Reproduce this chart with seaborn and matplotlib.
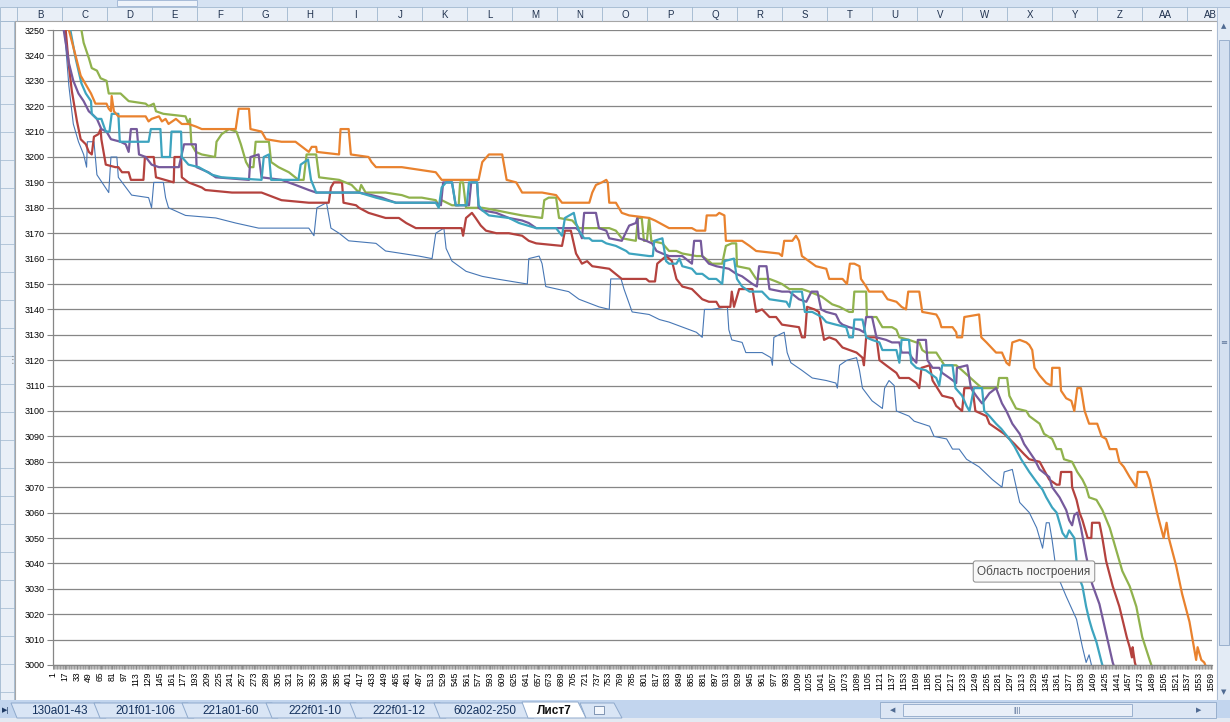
"""Excel-style sheet screenshot: six descending series on a category axis."""
import matplotlib
matplotlib.use("Agg")
import matplotlib.pyplot as plt
from matplotlib.patches import Rectangle, Polygon
import seaborn as sns

# ---- data -------------------------------------------------------------
categories = list(range(1, 1571))
x_tick_labels = [str(c) for c in categories[::16]]
y_ticks = list(range(3000, 3251, 10))

column_letters = ["B", "C", "D", "E", "F", "G", "H", "I", "J", "K", "L", "M", "N", "O",
                  "P", "Q", "R", "S", "T", "U", "V", "W", "X", "Y", "Z", "AA", "AB"]
sheet_tabs = ["130a01-43", "201f01-106", "221a01-60", "222f01-10", "222f01-12", "602a02-250"]
active_tab = "Лист7"
tooltip_text = "Область построения"

blue_points = [(1, 3300), (16, 3250), (22, 3228), (28, 3213), (35, 3206), (42, 3201), (46, 3196),
               (47, 3206), (56, 3206), (60, 3193), (76, 3186), (79, 3200), (87, 3200), (89, 3192),
               (107, 3185), (130, 3184), (134, 3180), (137, 3190), (150, 3190), (153, 3184),
               (157, 3180), (180, 3177), (221, 3176), (248, 3174), (279, 3172), (347, 3172),
               (354, 3169), (358, 3180), (371, 3182), (377, 3172), (388, 3170), (401, 3167),
               (438, 3166), (451, 3163), (496, 3161), (514, 3160), (519, 3170), (530, 3172),
               (533, 3164), (541, 3159), (560, 3155), (582, 3153), (601, 3152), (643, 3150),
               (645, 3160), (659, 3161), (663, 3158), (668, 3149), (699, 3147), (713, 3144),
               (740, 3141), (754, 3140), (756, 3152), (770, 3152), (774, 3148), (785, 3139),
               (808, 3138), (822, 3136), (835, 3135), (872, 3131), (880, 3129), (883, 3140),
               (893, 3140), (914, 3141), (916, 3132), (920, 3128), (934, 3127), (939, 3123),
               (961, 3123), (973, 3121), (975, 3118), (977, 3129), (991, 3131), (995, 3123),
               (1000, 3119), (1015, 3116), (1029, 3113), (1048, 3112), (1061, 3111), (1063, 3109),
               (1066, 3118), (1076, 3120), (1089, 3121), (1093, 3116), (1097, 3109), (1110, 3104),
               (1124, 3101), (1127, 3109), (1133, 3112), (1140, 3110), (1143, 3100), (1160, 3098),
               (1167, 3096), (1188, 3094), (1194, 3090), (1211, 3089), (1219, 3085), (1228, 3085),
               (1238, 3081), (1255, 3078), (1273, 3073), (1286, 3070), (1289, 3076), (1300, 3077),
               (1303, 3073), (1310, 3064), (1323, 3060), (1333, 3054), (1341, 3046), (1346, 3056),
               (1350, 3056), (1354, 3049), (1360, 3036), (1373, 3027), (1387, 3018), (1395, 3007),
               (1400, 3001), (1404, 3004), (1408, 2999), (1418, 2990)]

red_points = [(1, 3300), (18, 3249), (22, 3236), (26, 3226), (33, 3214), (38, 3207), (45, 3205),
              (49, 3202), (53, 3201), (56, 3208), (62, 3209), (65, 3211), (66, 3207), (72, 3197),
              (85, 3196), (89, 3196), (94, 3194), (103, 3194), (106, 3191), (123, 3191), (125, 3200),
              (137, 3200), (140, 3192), (164, 3190), (165, 3200), (174, 3200), (175, 3192),
              (184, 3190), (202, 3188), (207, 3187), (243, 3186), (283, 3186), (310, 3183),
              (347, 3182), (374, 3182), (377, 3188), (381, 3190), (392, 3190), (394, 3182),
              (411, 3181), (415, 3180), (428, 3178), (451, 3176), (469, 3176), (479, 3174),
              (492, 3172), (554, 3172), (556, 3169), (560, 3176), (568, 3178), (573, 3176),
              (580, 3173), (587, 3171), (601, 3170), (618, 3170), (636, 3169), (645, 3167),
              (655, 3166), (690, 3165), (694, 3171), (702, 3171), (709, 3162), (717, 3158),
              (724, 3159), (731, 3157), (754, 3156), (771, 3152), (804, 3152), (808, 3151),
              (816, 3151), (819, 3158), (831, 3161), (839, 3159), (845, 3152), (853, 3149),
              (866, 3148), (880, 3144), (889, 3143), (899, 3143), (903, 3141), (918, 3141),
              (920, 3147), (923, 3141), (930, 3148), (934, 3148), (948, 3148), (953, 3139),
              (961, 3140), (971, 3137), (980, 3137), (988, 3134), (1011, 3133), (1015, 3129),
              (1019, 3129), (1022, 3141), (1032, 3140), (1038, 3139), (1045, 3128), (1052, 3129),
              (1061, 3128), (1070, 3125), (1089, 3123), (1097, 3121), (1099, 3118), (1102, 3129),
              (1116, 3129), (1120, 3120), (1129, 3118), (1143, 3115), (1147, 3113), (1160, 3113),
              (1170, 3111), (1174, 3109), (1177, 3117), (1188, 3118), (1192, 3112), (1205, 3106),
              (1219, 3105), (1224, 3102), (1232, 3100), (1235, 3109), (1246, 3109), (1250, 3100),
              (1265, 3098), (1269, 3095), (1289, 3091), (1303, 3087), (1316, 3083), (1323, 3081),
              (1337, 3080), (1350, 3073), (1360, 3071), (1364, 3071), (1366, 3076), (1380, 3076),
              (1381, 3070), (1387, 3065), (1391, 3060), (1395, 3057), (1402, 3050), (1407, 3050),
              (1408, 3056), (1418, 3056), (1422, 3050), (1427, 3041), (1436, 3031), (1445, 3023),
              (1455, 3011), (1459, 3007), (1462, 3003), (1463, 3007), (1466, 3001), (1472, 2995)]

green_points = [(1, 3330), (39, 3250), (42, 3245), (49, 3239), (53, 3235), (60, 3234), (65, 3231),
                (73, 3230), (76, 3225), (92, 3225), (103, 3222), (126, 3221), (130, 3220),
                (137, 3221), (140, 3218), (150, 3217), (180, 3216), (184, 3213), (186, 3215),
                (188, 3205), (194, 3202), (202, 3201), (220, 3200), (222, 3206), (229, 3209),
                (239, 3211), (249, 3210), (255, 3205), (262, 3198), (266, 3196), (272, 3196),
                (275, 3206), (293, 3206), (296, 3198), (306, 3196), (320, 3194), (333, 3191),
                (340, 3191), (344, 3201), (357, 3201), (361, 3192), (388, 3191), (405, 3189),
                (415, 3186), (418, 3189), (424, 3186), (451, 3186), (473, 3185), (483, 3184),
                (500, 3184), (519, 3183), (523, 3181), (527, 3183), (541, 3181), (550, 3181),
                (552, 3190), (556, 3190), (560, 3180), (582, 3180), (601, 3179), (618, 3178),
                (636, 3177), (663, 3176), (666, 3183), (672, 3184), (682, 3184), (686, 3176),
                (704, 3175), (713, 3172), (754, 3172), (763, 3171), (771, 3168), (790, 3167),
                (793, 3176), (798, 3176), (801, 3167), (805, 3167), (808, 3176), (811, 3167),
                (826, 3166), (835, 3163), (845, 3163), (853, 3162), (872, 3161), (880, 3161),
                (889, 3159), (893, 3158), (907, 3158), (912, 3165), (920, 3166), (926, 3166),
                (927, 3157), (944, 3156), (953, 3152), (971, 3152), (980, 3151), (988, 3150),
                (998, 3148), (1015, 3148), (1025, 3147), (1042, 3145), (1056, 3142), (1066, 3141),
                (1079, 3139), (1084, 3139), (1086, 3147), (1102, 3147), (1103, 3137), (1116, 3137),
                (1120, 3135), (1124, 3133), (1137, 3133), (1143, 3132), (1147, 3129), (1160, 3128),
                (1170, 3127), (1174, 3127), (1178, 3124), (1183, 3123), (1197, 3123), (1208, 3118),
                (1224, 3118), (1232, 3116), (1251, 3111), (1259, 3109), (1280, 3109), (1282, 3113),
                (1293, 3113), (1296, 3106), (1305, 3101), (1319, 3100), (1323, 3098), (1337, 3095),
                (1343, 3091), (1354, 3089), (1360, 3085), (1366, 3085), (1370, 3081), (1381, 3080),
                (1388, 3076), (1395, 3073), (1400, 3070), (1404, 3066), (1414, 3065), (1422, 3061),
                (1432, 3054), (1436, 3050), (1441, 3045), (1449, 3037), (1459, 3031), (1468, 3023),
                (1476, 3011), (1486, 3002), (1493, 2996)]

purple_points = [(1, 3310), (15, 3250), (22, 3237), (28, 3230), (35, 3225), (42, 3222), (49, 3218),
                 (53, 3217), (60, 3215), (66, 3211), (73, 3210), (79, 3207), (92, 3206), (99, 3205),
                 (103, 3202), (106, 3211), (114, 3211), (117, 3201), (126, 3200), (134, 3197),
                 (144, 3196), (171, 3196), (178, 3205), (194, 3205), (195, 3196), (211, 3194),
                 (221, 3192), (266, 3191), (268, 3200), (279, 3201), (283, 3192), (310, 3191),
                 (329, 3189), (338, 3188), (347, 3187), (357, 3186), (415, 3186), (432, 3185),
                 (446, 3184), (455, 3183), (465, 3182), (519, 3182), (526, 3181), (529, 3190),
                 (541, 3190), (546, 3181), (564, 3181), (567, 3190), (575, 3190), (577, 3180),
                 (582, 3179), (601, 3178), (618, 3176), (636, 3175), (645, 3174), (655, 3172),
                 (709, 3172), (713, 3171), (717, 3168), (720, 3178), (736, 3178), (740, 3172),
                 (750, 3171), (754, 3168), (771, 3167), (781, 3173), (790, 3174), (792, 3176),
                 (794, 3168), (804, 3167), (812, 3166), (818, 3163), (826, 3162), (835, 3161),
                 (853, 3161), (866, 3158), (869, 3167), (878, 3167), (880, 3161), (889, 3158),
                 (899, 3157), (916, 3156), (926, 3154), (934, 3153), (948, 3150), (954, 3149),
                 (957, 3157), (967, 3157), (971, 3148), (988, 3147), (998, 3147), (1011, 3144),
                 (1021, 3143), (1028, 3147), (1036, 3147), (1041, 3140), (1048, 3139), (1061, 3138),
                 (1066, 3135), (1070, 3134), (1079, 3133), (1093, 3132), (1099, 3131), (1102, 3137),
                 (1110, 3137), (1116, 3129), (1129, 3128), (1137, 3127), (1147, 3127), (1150, 3123),
                 (1160, 3123), (1164, 3121), (1170, 3119), (1172, 3128), (1183, 3128), (1185, 3120),
                 (1192, 3117), (1201, 3117), (1205, 3115), (1215, 3113), (1224, 3111), (1225, 3117),
                 (1239, 3118), (1244, 3109), (1251, 3106), (1259, 3103), (1269, 3107), (1278, 3109),
                 (1286, 3103), (1292, 3100), (1300, 3095), (1305, 3093), (1310, 3091), (1316, 3087),
                 (1323, 3084), (1330, 3081), (1337, 3077), (1350, 3074), (1354, 3070), (1364, 3066),
                 (1373, 3061), (1377, 3057), (1381, 3055), (1384, 3059), (1388, 3060), (1393, 3054),
                 (1400, 3043), (1408, 3032), (1418, 3024), (1425, 3015), (1432, 3006), (1436, 3001),
                 (1443, 2995)]

aqua_points = [(1, 3310), (24, 3250), (31, 3239), (35, 3234), (39, 3229), (45, 3225), (52, 3222),
               (53, 3217), (60, 3215), (66, 3215), (72, 3210), (77, 3210), (80, 3217), (89, 3217),
               (91, 3206), (130, 3206), (133, 3211), (146, 3211), (148, 3200), (159, 3200),
               (161, 3210), (174, 3210), (175, 3200), (184, 3197), (198, 3196), (216, 3193),
               (229, 3192), (283, 3191), (286, 3200), (293, 3201), (296, 3191), (333, 3191),
               (336, 3197), (346, 3199), (350, 3191), (357, 3186), (415, 3186), (438, 3184),
               (465, 3182), (519, 3182), (523, 3180), (527, 3188), (533, 3190), (541, 3190),
               (546, 3181), (561, 3181), (564, 3190), (575, 3190), (577, 3181), (582, 3179),
               (591, 3177), (618, 3176), (632, 3174), (655, 3172), (682, 3172), (690, 3169),
               (694, 3176), (706, 3178), (709, 3174), (713, 3171), (720, 3168), (727, 3168),
               (731, 3167), (744, 3167), (750, 3166), (763, 3165), (777, 3163), (781, 3162),
               (808, 3161), (813, 3161), (815, 3167), (826, 3168), (831, 3159), (835, 3158),
               (845, 3158), (849, 3160), (853, 3157), (866, 3156), (872, 3154), (880, 3154),
               (889, 3152), (899, 3152), (907, 3150), (910, 3159), (923, 3160), (927, 3152),
               (934, 3149), (944, 3147), (961, 3147), (971, 3144), (994, 3143), (998, 3141),
               (1002, 3147), (1015, 3147), (1019, 3139), (1029, 3139), (1042, 3137), (1048, 3135),
               (1061, 3134), (1075, 3133), (1079, 3129), (1084, 3129), (1086, 3136), (1097, 3136),
               (1102, 3129), (1110, 3128), (1120, 3127), (1124, 3124), (1143, 3124), (1147, 3119),
               (1150, 3128), (1160, 3128), (1163, 3119), (1170, 3117), (1183, 3116), (1197, 3113),
               (1201, 3110), (1205, 3118), (1219, 3118), (1223, 3109), (1232, 3106), (1238, 3102),
               (1242, 3100), (1248, 3109), (1259, 3109), (1262, 3100), (1269, 3098), (1278, 3095),
               (1285, 3093), (1296, 3089), (1303, 3086), (1312, 3081), (1323, 3076), (1333, 3072),
               (1341, 3069), (1346, 3066), (1350, 3064), (1354, 3062), (1360, 3060), (1364, 3056),
               (1368, 3052), (1373, 3050), (1377, 3053), (1384, 3050), (1387, 3041), (1391, 3034),
               (1395, 3031), (1400, 3023), (1404, 3018), (1408, 3014), (1414, 3009), (1421, 3001),
               (1427, 2995)]

orange_points = [(1, 3310), (22, 3250), (31, 3240), (38, 3232), (42, 3230), (46, 3228), (52, 3225),
                 (58, 3221), (73, 3221), (76, 3219), (79, 3218), (80, 3224), (83, 3218), (89, 3216),
                 (126, 3216), (130, 3214), (134, 3215), (144, 3216), (148, 3214), (153, 3215),
                 (157, 3213), (167, 3215), (175, 3213), (184, 3213), (194, 3212), (202, 3211),
                 (248, 3211), (252, 3219), (266, 3219), (268, 3211), (283, 3210), (289, 3207),
                 (310, 3206), (329, 3206), (338, 3204), (347, 3202), (351, 3204), (357, 3204),
                 (358, 3202), (388, 3201), (390, 3211), (401, 3211), (404, 3201), (428, 3200),
                 (432, 3198), (438, 3196), (473, 3196), (496, 3195), (519, 3194), (527, 3191),
                 (577, 3191), (582, 3198), (591, 3201), (609, 3201), (615, 3191), (628, 3190),
                 (636, 3186), (663, 3186), (682, 3185), (690, 3182), (727, 3182), (731, 3186),
                 (736, 3189), (744, 3190), (750, 3191), (752, 3190), (754, 3182), (763, 3182),
                 (771, 3178), (781, 3177), (808, 3176), (816, 3175), (835, 3172), (866, 3172),
                 (872, 3171), (884, 3171), (886, 3177), (899, 3177), (903, 3178), (910, 3177),
                 (912, 3167), (934, 3167), (944, 3165), (953, 3163), (984, 3162), (988, 3161),
                 (991, 3167), (1002, 3167), (1007, 3169), (1011, 3167), (1015, 3161), (1034, 3157),
                 (1048, 3156), (1052, 3152), (1070, 3152), (1076, 3150), (1080, 3158), (1086, 3158),
                 (1093, 3157), (1095, 3152), (1102, 3149), (1106, 3147), (1124, 3147), (1131, 3144),
                 (1143, 3143), (1150, 3141), (1156, 3140), (1159, 3147), (1174, 3147), (1178, 3139),
                 (1197, 3138), (1201, 3136), (1204, 3133), (1219, 3133), (1224, 3131), (1225, 3129),
                 (1232, 3129), (1235, 3137), (1255, 3138), (1258, 3129), (1265, 3127), (1278, 3123),
                 (1286, 3123), (1292, 3119), (1296, 3118), (1300, 3127), (1310, 3128), (1319, 3127),
                 (1323, 3126), (1327, 3124), (1330, 3117), (1337, 3114), (1346, 3111), (1353, 3110),
                 (1354, 3117), (1364, 3117), (1366, 3108), (1373, 3105), (1380, 3104), (1384, 3100),
                 (1388, 3109), (1393, 3109), (1398, 3100), (1404, 3095), (1415, 3095), (1421, 3090),
                 (1427, 3089), (1432, 3085), (1441, 3085), (1445, 3080), (1451, 3078), (1459, 3074),
                 (1468, 3070), (1470, 3076), (1482, 3076), (1486, 3073), (1496, 3060), (1505, 3050),
                 (1509, 3056), (1512, 3050), (1522, 3039), (1530, 3028), (1540, 3017), (1549, 3002),
                 (1551, 3007), (1556, 3002), (1560, 3001), (1567, 2996)]

# draw order as in Excel: first series at the bottom
series = [
    (blue_points, "#4777B5", 0.8),
    (red_points, "#B4423E", 1.6),
    (green_points, "#90B24D", 1.6),
    (purple_points, "#765A9C", 1.6),
    (aqua_points, "#3DA4BF", 1.6),
    (orange_points, "#E9822E", 1.6),
]

# ---- figure -----------------------------------------------------------
sns.set_theme(style="white")
plt.rcParams["font.family"] = ["Liberation Sans", "DejaVu Sans"]

W, H = 1230, 722
fig = plt.figure(figsize=(W / 100, H / 100), dpi=100)

# Excel window chrome, drawn in pixel space
ui = fig.add_axes([0, 0, 1, 1])
ui.set_xlim(0, W)
ui.set_ylim(H, 0)
ui.axis("off")
edge = "#9EB6CE"
ui.add_patch(Rectangle((0, 0), W, H, fc="white", ec="none"))
ui.add_patch(Rectangle((0, 0), W, 7, fc="#D5E2F2", ec="none"))
ui.add_patch(Rectangle((117, 0), 80, 6, fc="#EEF3FA", ec="#9DB4D3", lw=0.6))
ui.add_patch(Rectangle((0, 7), W, 14, fc="#E9EFF7", ec=edge, lw=0.6))
for k, letter in enumerate(column_letters):
    ui.plot([17.3 + 45 * k] * 2, [7, 21], color=edge, lw=0.6)
    ui.text(40 + 45 * k, 14.5, letter, ha="center", va="center", fontsize=7, color="#20324F")
ui.add_patch(Rectangle((0, 21), 14, 680, fc="#E9EFF7", ec=edge, lw=0.6))
for yy in range(48, 700, 28):
    ui.plot([0, 14], [yy, yy], color=edge, lw=0.5)
# chart area
ui.add_patch(Rectangle((15, 21), 1202, 680, fc="white", ec="#A6A6A6", lw=0.8))
ui.text(12, 360, "⋮", ha="center", va="center", fontsize=7, color="#7F7F7F",
        family=["DejaVu Sans"])
# vertical scrollbar
ui.add_patch(Rectangle((1217, 7), 13, 695, fc="#E3EBF5", ec="#A8BCD6", lw=0.6))
ui.add_patch(Rectangle((1218.5, 40), 10, 605, fc="#D4E0F0", ec="#8FA8C8", lw=0.6))
ui.text(1224, 343, "≡", ha="center", va="center", fontsize=6, color="#5B7399",
        family=["DejaVu Sans"])
ui.text(1224, 26, "▲", ha="center", va="center", fontsize=5, color="#4F6A92",
        family=["DejaVu Sans"])
ui.text(1224, 692, "▼", ha="center", va="center", fontsize=5, color="#4F6A92",
        family=["DejaVu Sans"])
# sheet tabs
ui.add_patch(Rectangle((0, 700), W, 22, fc="#C2D5EE", ec="none"))
ui.add_patch(Rectangle((0, 718), W, 4, fc="#E3E9F2", ec="none"))
ui.text(6, 710, "▶|", ha="center", va="center", fontsize=5, color="#1F3A64",
        family=["DejaVu Sans"])
tab_edges = [17, 100, 188, 272, 356, 440, 528]
for k, name in enumerate(sheet_tabs):
    x0, x1 = tab_edges[k], tab_edges[k + 1]
    ui.add_patch(Polygon([(x0 - 6, 703), (x1, 703), (x1 + 6, 718), (x0, 718)], closed=True,
                         fc="#D9E5F5", ec="#8EA9CC", lw=0.7))
    ui.text((x0 + x1) / 2 + 1, 711, name, ha="center", va="center", fontsize=8.5,
            color="#15325E")
ui.add_patch(Polygon([(522, 702), (578, 702), (586, 718), (528, 718)], closed=True,
                     fc="white", ec="#8EA9CC", lw=0.7))
ui.text(554, 711, active_tab, ha="center", va="center", fontsize=8.5, fontweight="bold",
        color="#111111")
ui.add_patch(Polygon([(580, 703), (614, 703), (622, 718), (586, 718)], closed=True,
                     fc="#D9E5F5", ec="#8EA9CC", lw=0.7))
ui.add_patch(Rectangle((594, 706), 10, 8, fc="#F4F7FC", ec="#6F86A8", lw=0.6))
# horizontal scrollbar
ui.add_patch(Rectangle((880, 702), 336, 16, fc="#DCE6F4", ec="#8FA8C8", lw=0.6))
ui.add_patch(Rectangle((903, 704), 229, 12, fc="#E9EFF8", ec="#8FA8C8", lw=0.6))
ui.text(1017, 710, "||||", ha="center", va="center", fontsize=5, color="#5B7399")
ui.text(893, 710, "◀", ha="center", va="center", fontsize=5, color="#4F6A92",
        family=["DejaVu Sans"])
ui.text(1199, 710, "▶", ha="center", va="center", fontsize=5, color="#4F6A92",
        family=["DejaVu Sans"])

# ---- plot area ----------------------------------------------------------
left, right, top, bottom = 53, 1212, 30, 665
ax = fig.add_axes([left / W, 1 - bottom / H, (right - left) / W, (bottom - top) / H])
ax.set_facecolor("white")

for points, color, lw in series:
    xs = [p[0] for p in points]
    ys = [p[1] for p in points]
    sns.lineplot(x=xs, y=ys, ax=ax, color=color, linewidth=lw,
                 estimator=None, sort=False, legend=False)

grid = "#868686"
ax.set_xlim(categories[0] - 0.5, categories[-1] + 0.5)
ax.set_ylim(y_ticks[0], y_ticks[-1])
ax.set_yticks(y_ticks)
ax.set_yticklabels([str(v) for v in y_ticks])
ax.set_xticks(categories[::16])
ax.set_xticklabels(x_tick_labels, rotation=90)
ax.set_xticks([c - 0.5 for c in categories] + [categories[-1] + 0.5], minor=True)
ax.yaxis.grid(True, color=grid, lw=0.9)
ax.xaxis.grid(False)
ax.set_axisbelow(True)
for side in ["top", "right"]:
    ax.spines[side].set_visible(False)
for side in ["left", "bottom"]:
    ax.spines[side].set_color(grid)
    ax.spines[side].set_linewidth(0.9)
ax.tick_params(axis="y", which="major", left=True, length=4, width=0.8, color=grid,
               labelsize=6.5, pad=2, labelcolor="#000000")
ax.tick_params(axis="x", which="major", bottom=True, length=3, width=0.6, color=grid,
               labelsize=6.2, pad=2, labelcolor="#000000")
ax.tick_params(axis="x", which="minor", bottom=True, length=3, width=0.4, color=grid)
ax.set_xlabel("")
ax.set_ylabel("")

# hover tooltip over the plot area
fig.text(1034 / W, 1 - 571.5 / H, tooltip_text, ha="center", va="center", fontsize=8.5,
         color="#4D4D4D",
         bbox=dict(boxstyle="round,pad=0.35,rounding_size=0.2", fc="#F8F8F8",
                   ec="#8C8C8C", lw=0.7))

fig.savefig("out.png", dpi=100)
plt.close(fig)
